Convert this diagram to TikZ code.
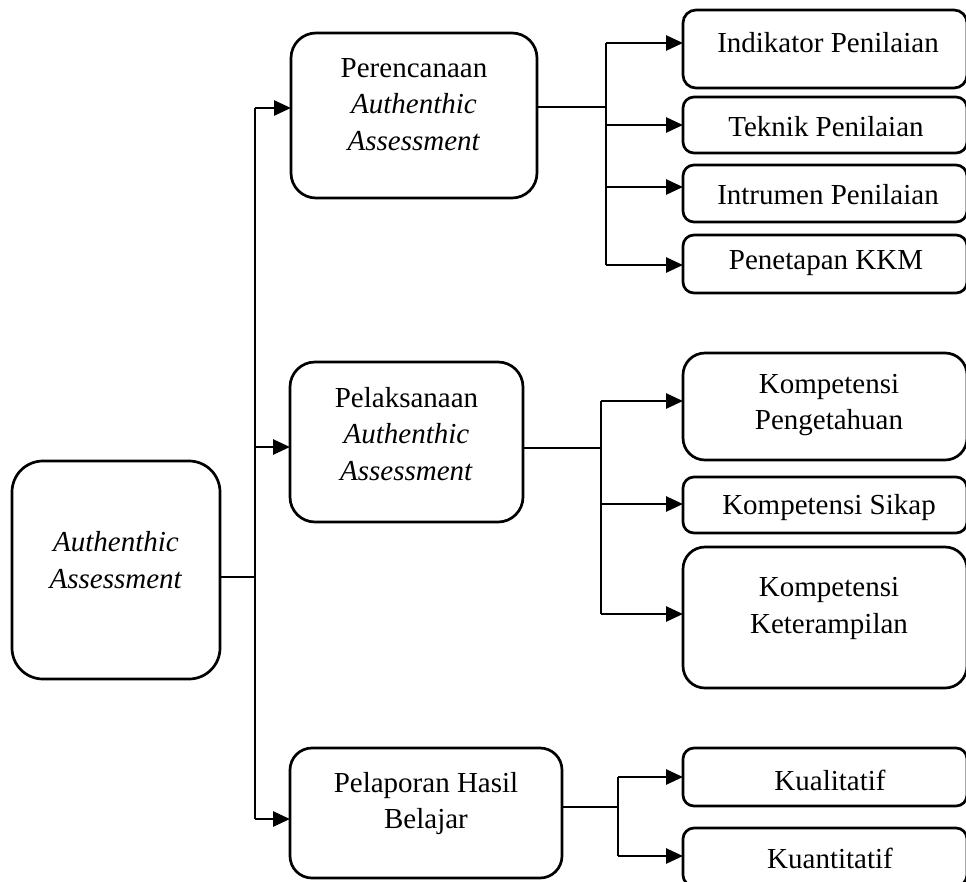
\documentclass[tikz,border=0pt]{standalone}
\usepackage{fontspec}
\setmainfont{Liberation Serif}
\usetikzlibrary{arrows.meta}
\tikzset{
  boxbase/.style={draw=black, line width=2.7pt, inner sep=0pt, outer sep=0pt, fill=white},
  bigbox/.style={boxbase, rounded corners=25pt},
  rootbox/.style={boxbase, rounded corners=31pt},
  midbox/.style={boxbase, rounded corners=22pt},
  smallbox/.style={boxbase, rounded corners=11pt},
  txt/.style={align=center, inner sep=0pt, font=\fontsize{29}{36.5}\selectfont},
  conn/.style={line width=2.7pt},
  arr/.style={line width=2.7pt, -{Triangle[length=17pt,width=15pt]}}
}
\begin{document}
\begin{tikzpicture}[x=1pt,y=-1pt]
\useasboundingbox (0,0) rectangle (966,881);

% left level
\node[rootbox, minimum width=208pt, minimum height=218pt] (root) at (116,570) {};
\node[txt] (roott) at (116,560) {\textit{Authenthic}\\\textit{Assessment}};

\node[bigbox, minimum width=246pt, minimum height=165pt] (per) at (414,115.5) {};
\node[txt] (pert) at (414,104.5) {Perencanaan\\\textit{Authenthic}\\\textit{Assessment}};

\node[bigbox, minimum width=233pt, minimum height=160pt] (pel) at (406.5,442) {};
\node[txt] (pelt) at (406.5,434) {Pelaksanaan\\\textit{Authenthic}\\\textit{Assessment}};

\node[bigbox, rounded corners=22pt, minimum width=272pt, minimum height=130pt] (lap) at (426,813) {};
\node[txt] (lapt) at (426,803.5) {Pelaporan Hasil\\Belajar};

% right level
\node[smallbox, rounded corners=13pt, minimum width=284pt, minimum height=78pt] (ind) at (825,49) {};
\node[txt] (indt) at (828,43) {Indikator Penilaian};
\node[smallbox, minimum width=284pt, minimum height=56pt] (tek) at (825,125) {};
\node[txt] (tekt) at (826,127) {Teknik Penilaian};
\node[smallbox, minimum width=284pt, minimum height=57pt] (ins) at (825,193.5) {};
\node[txt] (inst) at (828,195) {Intrumen Penilaian};
\node[smallbox, minimum width=284pt, minimum height=58pt] (kkm) at (825,264) {};
\node[txt] (kkmt) at (826,263) {Penetapan KKM};

\node[midbox, minimum width=284pt, minimum height=107pt] (png) at (825,406.5) {};
\node[txt] (pngt) at (829,405) {Kompetensi\\Pengetahuan};
\node[smallbox, minimum width=284pt, minimum height=56pt] (sik) at (825,505) {};
\node[txt] (sikt) at (829,508) {Kompetensi Sikap};
\node[midbox, minimum width=284pt, minimum height=141pt] (ket) at (825,617.5) {};
\node[txt] (kett) at (829,608.5) {Kompetensi\\Keterampilan};

\node[smallbox, minimum width=284pt, minimum height=58pt] (kual) at (825,777) {};
\node[txt] (kualt) at (830,780) {Kualitatif};
\node[smallbox, minimum width=284pt, minimum height=58pt] (kuan) at (825,857) {};
\node[txt] (kuant) at (830,858) {Kuantitatif};

% trunk from root
\coordinate (t0) at (255,577);
\coordinate (ta) at (255,108);
\coordinate (tb) at (255,447);
\coordinate (tc) at (255,819);
\draw[conn] (root.east |- t0) -- (t0);
\draw[conn] (ta) -- (tc);
\draw[arr] (ta) -- (per.west |- ta);
\draw[arr] (tb) -- (pel.west |- tb);
\draw[arr] (tc) -- (lap.west |- tc);

% perencanaan branch
\coordinate (p0) at (606,107);
\coordinate (p1) at (606,43);
\coordinate (p2) at (606,125);
\coordinate (p3) at (606,187);
\coordinate (p4) at (606,265);
\draw[conn] (per.east |- p0) -- (p0);
\draw[conn] (p1) -- (p4);
\draw[arr] (p1) -- (ind.west |- p1);
\draw[arr] (p2) -- (tek.west |- p2);
\draw[arr] (p3) -- (ins.west |- p3);
\draw[arr] (p4) -- (kkm.west |- p4);

% pelaksanaan branch
\coordinate (q0) at (601,448);
\coordinate (q1) at (601,401);
\coordinate (q2) at (601,504);
\coordinate (q3) at (601,614);
\draw[conn] (pel.east |- q0) -- (q0);
\draw[conn] (q1) -- (q3);
\draw[arr] (q1) -- (png.west |- q1);
\draw[arr] (q2) -- (sik.west |- q2);
\draw[arr] (q3) -- (ket.west |- q3);

% pelaporan branch
\coordinate (s0) at (618,807);
\coordinate (s1) at (618,777);
\coordinate (s2) at (618,856);
\draw[conn] (lap.east |- s0) -- (s0);
\draw[conn] (s1) -- (s2);
\draw[arr] (s1) -- (kual.west |- s1);
\draw[arr] (s2) -- (kuan.west |- s2);
\end{tikzpicture}
\end{document}
